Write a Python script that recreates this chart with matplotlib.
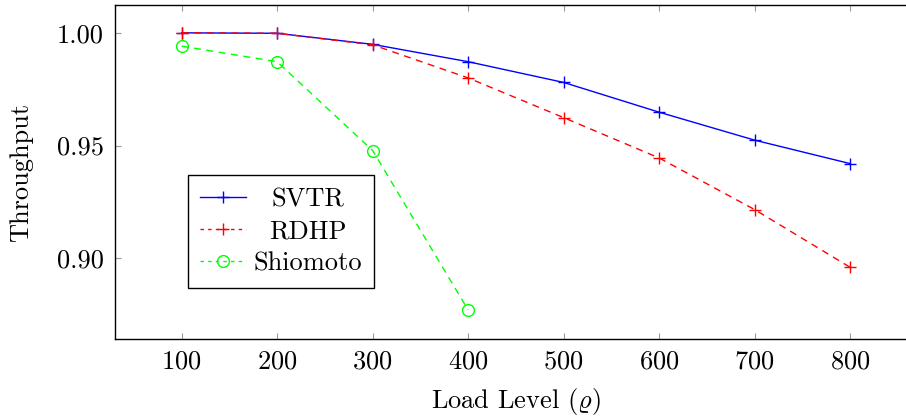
import matplotlib
matplotlib.use("Agg")
import matplotlib.pyplot as plt
from matplotlib.transforms import Affine2D

plt.rcParams["font.family"] = ["cmr10", "DejaVu Serif"]
plt.rcParams["mathtext.fontset"] = "cm"
plt.rcParams["axes.formatter.use_mathtext"] = True

load = [100, 200, 300, 400, 500, 600, 700, 800]
svtr = [1.000, 0.9998, 0.9949, 0.9872, 0.9780, 0.9648, 0.9524, 0.9420]
rdhp = [1.000, 0.9998, 0.9947, 0.9800, 0.9624, 0.9445, 0.9216, 0.8960]
shio_load = [100, 200, 300, 400]
shio = [0.9941, 0.9872, 0.9478, 0.8771]

yticks = [0.90, 0.95, 1.00]
ytick_labels = ["0.90", "0.95", "1.00"]

FS = 19

fig = plt.figure(figsize=(9.06, 4.2), dpi=100)
ax = fig.add_axes([0.1267, 0.1929, 0.8854, 0.7952])

ax.plot(load, svtr, color="#0000ff", lw=1.0, marker="+", ms=9, mew=1.0,
        label="SVTR")
ax.plot(load, rdhp, color="#ff0000", lw=1.0, ls=(0, (5, 4)), marker="+",
        ms=9, mew=1.0, label="RDHP")
ax.plot(shio_load, shio, color="#00ff00", lw=1.0, ls=(0, (5, 4)), marker="o",
        ms=8.5, mew=1.0, mfc="none", label="Shiomoto")

ax.set_xlim(30, 870)
ax.set_ylim(0.8642, 1.01235)
ax.set_xticks(load)
ax.set_yticks(yticks)
ax.set_yticklabels(ytick_labels)
ax.tick_params(direction="in", length=4.5, width=0.8, color="#999999",
               top=True, right=True, labelsize=FS, pad=8)
for s in ax.spines.values():
    s.set_linewidth(1.0)

ax.set_xlabel(r"Load Level ($\varrho$)", fontsize=FS, labelpad=9)
ax.set_ylabel("Throughput", fontsize=FS, labelpad=17)

leg = ax.legend(loc="lower left", bbox_to_anchor=(0.0916, 0.1536),
                borderaxespad=0, fontsize=FS, fancybox=False,
                edgecolor="black", framealpha=1, handlelength=1.74,
                labelspacing=0.32, borderpad=0.46, handletextpad=0.26)
leg.get_frame().set_linewidth(1.0)
# shorter dashes in the legend keys, like "- + -"
for h in leg.get_lines()[1:]:
    h.set_linestyle((0, (2.5, 3)))

# centre the legend texts in their column, as pgfplots does
fig.canvas.draw()
r = fig.canvas.get_renderer()
texts = leg.get_texts()
widths = [t.get_window_extent(r).width for t in texts]
wmax = max(widths)
for t, w in zip(texts, widths):
    t.set_transform(t.get_transform() + Affine2D().translate((wmax - w) / 2, 0))

fig.savefig("out.png", dpi=100)
